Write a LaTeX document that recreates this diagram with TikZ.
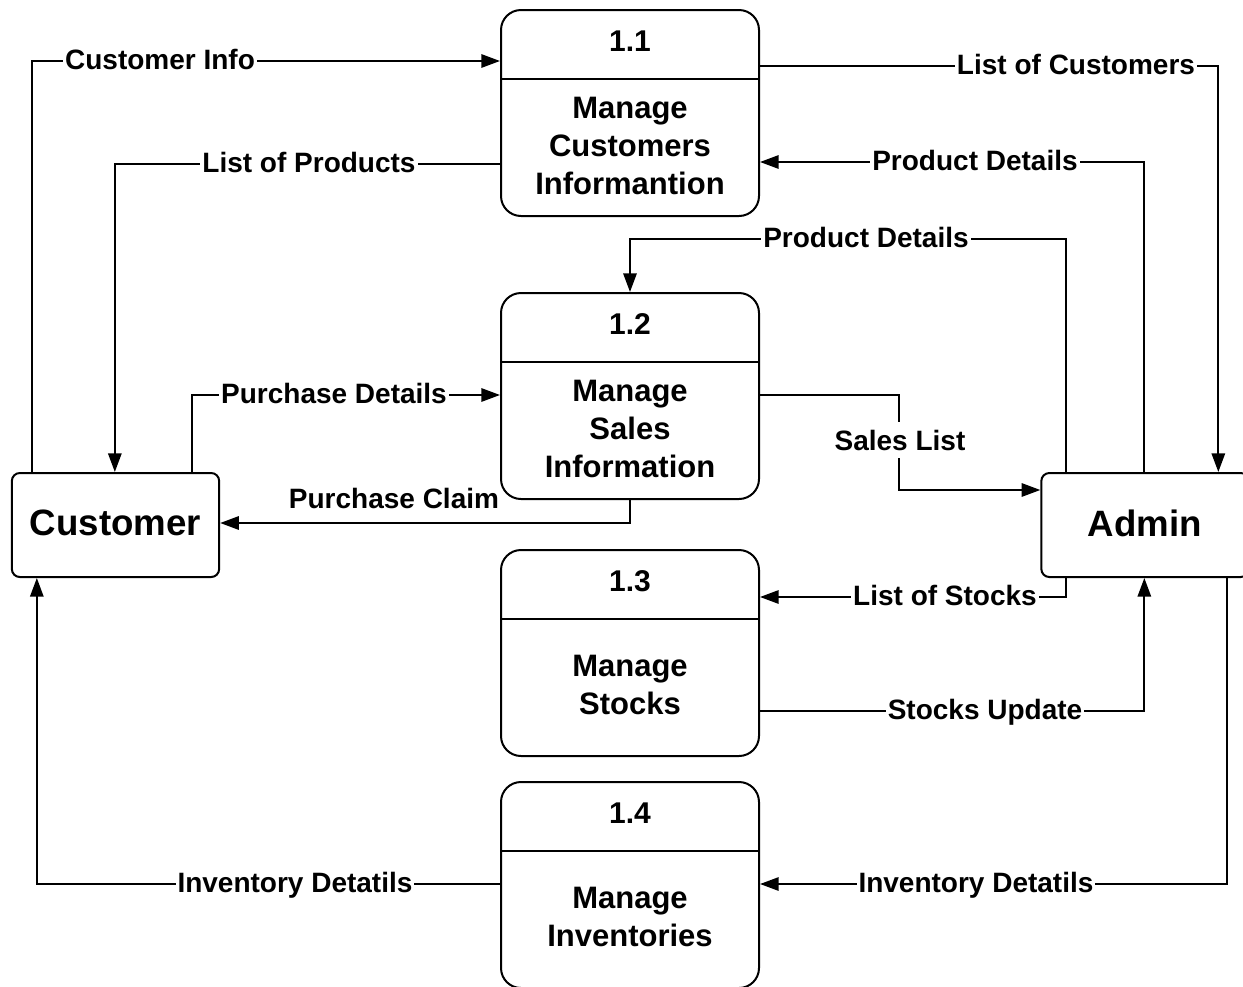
\documentclass[tikz,border=0pt]{standalone}
\usepackage{fontspec}
\setmainfont{Liberation Sans}
\usetikzlibrary{arrows.meta,calc}
\begin{document}
\begin{tikzpicture}[x=0.75pt,y=-0.75pt,
  line width=1.5pt,
  proc/.style={draw,rounded corners=15pt,minimum width=193.5pt,minimum height=154.5pt,inner sep=0pt},
  ent/.style={draw,rounded corners=6pt,minimum width=155.5pt,minimum height=78pt,inner sep=0pt,font=\fontsize{27.5}{33}\selectfont\bfseries},
  num/.style={font=\fontsize{22.5}{27}\selectfont\bfseries},
  ptext/.style={font=\fontsize{23.25}{28.5}\selectfont\bfseries,align=center},
  lbl/.style={font=\fontsize{21}{25}\selectfont\bfseries,fill=white,inner xsep=1.5pt,inner ysep=2pt,anchor=base},
  flow/.style={-{Triangle[length=14pt,width=10pt]}}
]
\useasboundingbox (0,0) rectangle (1243,986);

% entities
\node[ent] (cust) at (115.5,525) {\raisebox{3pt}{Customer}};
\node[ent] (adm) at (1145,525) {\raisebox{3pt}{Admin}};

% processes
\node[proc] (p11) at (630,113) {};
\node[proc] (p12) at (630,396) {};
\node[proc] (p13) at (630,653) {};
\node[proc] (p14) at (630,885) {};
\foreach \p in {p11,p12,p13,p14}{
  \draw ($(\p.north west)+(0,70)$) -- ($(\p.north east)+(0,70)$);
}
\node[num] (n11) at ($(p11.north)+(0,32)$) {1.1};
\node[num] (n12) at ($(p12.north)+(0,32)$) {1.2};
\node[num] (n13) at ($(p13.north)+(0,32)$) {1.3};
\node[num] (n14) at ($(p14.north)+(0,32)$) {1.4};
\node[ptext] (t11) at ($(p11.north)+(0,137)$) {Manage\\Customers\\Informantion};
\node[ptext] (t12) at ($(p12.north)+(0,137)$) {Manage\\Sales\\Information};
\node[ptext] (t13) at ($(p13.north)+(0,136)$) {Manage\\Stocks};
\node[ptext] (t14) at ($(p14.north)+(0,136)$) {Manage\\Inventories};

% flows
\draw[flow] ($(cust.north west)+(21,0)$) |- ($(p11.north west)+(0,52)$);
\draw[flow] ($(p11.north west)+(0,155)$) -| ($(cust.north west)+(104,0)$);
\draw[flow] ($(p11.north east)+(0,57)$) -| ($(adm.north west)+(178,0)$);
\draw[flow] ($(adm.north west)+(104,0)$) |- ($(p11.north east)+(0,153)$);
\draw[flow] ($(adm.north west)+(26,0)$) |- ($(p12.north)+(0,-53)$) -- (p12.north);
\draw[flow] ($(cust.north west)+(181,0)$) |- ($(p12.north west)+(0,103)$);
\draw[flow] (p12.south) |- ($(cust.north east)+(0,51)$);
\draw[flow] ($(p12.north east)+(0,103)$) -| ($(adm.north west)+(-141,18)$) -- ($(adm.north west)+(0,18)$);
\draw[flow] ($(adm.south west)+(26,0)$) |- ($(p13.north east)+(0,48)$);
\draw[flow] ($(p13.north east)+(0,162)$) -| ($(adm.south west)+(104,0)$);
\draw[flow] ($(adm.south west)+(187,0)$) |- ($(p14.north east)+(0,103)$);
\draw[flow] ($(p14.north west)+(0,103)$) -| ($(cust.south west)+(26,0)$);

% labels
\node[lbl] (l1) at (160,69) {Customer Info};
\node[lbl] (l2) at (309,172) {List of Products};
\node[lbl] (l3) at (1076,74) {List of Customers};
\node[lbl] (l4) at (975,170) {Product Details};
\node[lbl] (l5) at (866,247) {Product Details};
\node[lbl] (l6) at (334,403) {Purchase Details};
\node[lbl,fill=none] (l7) at (394,508) {Purchase Claim};
\node[lbl,inner ysep=6pt] (l8) at (900,450) {Sales List};
\node[lbl] (l9) at (945,605) {List of Stocks};
\node[lbl] (l10) at (985,719) {Stocks Update};
\node[lbl] (l11) at (976,892) {Inventory Detatils};
\node[lbl] (l12) at (295,892) {Inventory Detatils};
\end{tikzpicture}
\end{document}
